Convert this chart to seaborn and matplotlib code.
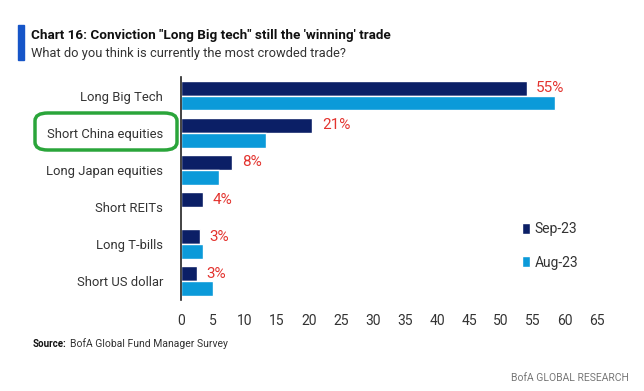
import matplotlib
matplotlib.use('Agg')
import matplotlib.pyplot as plt
from matplotlib.patches import FancyBboxPatch, Rectangle
import seaborn as sns
import pandas as pd

# Data
trades = ['Long Big Tech', 'Short China equities', 'Long Japan equities',
          'Short REITs', 'Long T-bills', 'Short US dollar']
sep_23 = [54, 20.5, 8, 3.5, 3, 2.5]
aug_23 = [58.5, 13.3, 5.9, 0, 3.5, 5.0]
sep_labels = ['55%', '21%', '8%', '4%', '3%', '3%']
x_ticks = list(range(0, 70, 5))

navy = '#0b1f66'
light = '#0b9ad9'
red = '#e3342f'

df = pd.DataFrame({
    'trade': trades * 2,
    'value': sep_23 + aug_23,
    'month': ['Sep-23'] * len(trades) + ['Aug-23'] * len(trades),
})

sns.set_style('white')
plt.rcParams['font.family'] = ['Roboto', 'DejaVu Sans']

fig = plt.figure(figsize=(6.44, 3.91), dpi=100)
ax = fig.add_axes([0.281, 0.233, 0.646, 0.57])

sns.barplot(data=df, x='value', y='trade', hue='month', orient='h',
            hue_order=['Sep-23', 'Aug-23'], palette=[navy, light],
            width=0.8, ax=ax, saturation=1, legend=True)

# red value labels on the Sep bars
for i, (v, lab) in enumerate(zip(sep_23, sep_labels)):
    ax.text(v + 1.5, i - 0.2, lab, color=red, fontsize=11,
            va='center', ha='left')

ax.set_xlim(0, 65)
ax.set_ylim(5.5, -0.5)
ax.set_xticks(x_ticks)
ax.set_xticklabels([str(t) for t in x_ticks], fontsize=10, color='#333333')
ax.tick_params(axis='y', labelsize=9.4, colors='#333333', length=0, pad=13)
ax.tick_params(axis='x', length=0, pad=10)
ax.set_xlabel('')
ax.set_ylabel('')
for s in ['top', 'right', 'bottom']:
    ax.spines[s].set_visible(False)
ax.spines['left'].set_color('#222222')
ax.spines['left'].set_linewidth(1.2)

leg = ax.legend(loc='lower right', bbox_to_anchor=(0.985, 0.08), frameon=False,
                fontsize=10, handlelength=0.6, handleheight=0.8,
                handletextpad=0.3, labelspacing=1.4)
for t in leg.get_texts():
    t.set_color('#333333')

# title block
fig.add_artist(Rectangle((18 / 644, 1 - 60 / 391), 6 / 644, 35 / 391,
                         transform=fig.transFigure, color='#1655c8'))
fig.text(31 / 644, 1 - 35 / 391,
         'Chart 16: Conviction "Long Big tech" still the \'winning\' trade',
         fontsize=9.7, fontweight='bold', color='#111111', va='center')
fig.text(31 / 644, 1 - 53 / 391,
         'What do you think is currently the most crowded trade?',
         fontsize=9.3, color='#333333', va='center')

# footer
fig.text(33 / 644, 1 - 344 / 391, 'Source:', fontsize=7, fontweight='bold',
         color='#111111', va='center')
fig.text(70 / 644, 1 - 344 / 391, 'BofA Global Fund Manager Survey',
         fontsize=7.5, color='#333333', va='center')
fig.text(629 / 644, 1 - 378 / 391, 'BofA GLOBAL RESEARCH', fontsize=7.5,
         color='#777777', va='center', ha='right')

# green highlight round "Short China equities"
fig.add_artist(FancyBboxPatch((35 / 644, 1 - 150 / 391), 142 / 644, 37 / 391,
                              boxstyle='round,pad=0,rounding_size=0.02',
                              transform=fig.transFigure, fill=False,
                              edgecolor='#2aa53a', linewidth=2.5))

fig.savefig('out.png', dpi=100)
